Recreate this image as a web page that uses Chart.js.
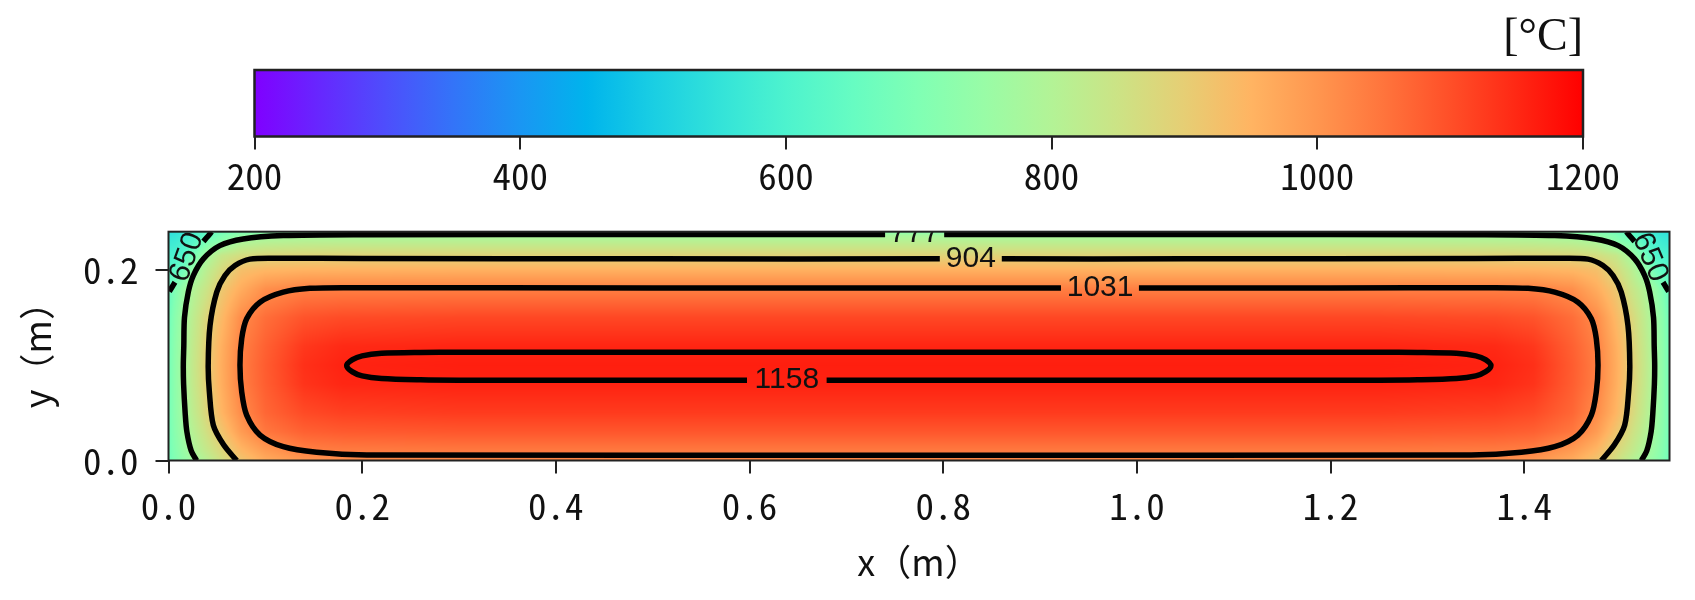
<!DOCTYPE html>
<html>
<head>
<meta charset="utf-8">
<script src="https://cdn.jsdelivr.net/npm/chart.js@4.4.1/dist/chart.umd.min.js"></script>
<style>
  html, body { margin: 0; padding: 0; background: #fff; }
  #wrap { position: relative; width: 1695px; height: 600px; }
  #colorbar { position: absolute; left: 0; top: 0; }
  #tempMap { position: absolute; left: 0; top: 200px; }
</style>
</head>
<body>
<div id="wrap">
  <canvas id="colorbar" width="1695" height="200"></canvas>
  <canvas id="tempMap" width="1695" height="400"></canvas>
</div>
<script>
// colour scale range and ticks
const barRange = [200, 1200];
const barTickValues = [200, 400, 600, 800, 1000, 1200];
const xTickValues = [0, 0.2, 0.4, 0.6, 0.8, 1.0, 1.2, 1.4];
const yTickValues = [0, 0.2];

// temperature field (°C), rows follow yNodes, columns follow xNodes
const xNodes = [0, 0.007, 0.015, 0.025, 0.04, 0.055, 0.075, 0.1, 0.14, 0.18, 0.3,
                1.25, 1.37, 1.41, 1.45, 1.475, 1.495, 1.51, 1.525, 1.535, 1.543, 1.55];
const yNodes = [0, 0.01, 0.03, 0.05, 0.08, 0.1, 0.12, 0.15, 0.18, 0.2, 0.215, 0.23, 0.236, 0.24];
const tempRows = [
  [672, 705, 735, 765, 810, 860, 917, 963, 998, 1010, 1018, 1018, 1010, 998, 963, 917, 860, 810, 765, 735, 705, 672],
  [675, 712, 748, 785, 836, 880, 943, 990, 1031, 1038, 1042, 1042, 1038, 1031, 990, 943, 880, 836, 785, 748, 712, 675],
  [678, 722, 762, 806, 862, 918, 990, 1045, 1076, 1085, 1090, 1090, 1085, 1076, 1045, 990, 918, 862, 806, 762, 722, 678],
  [680, 728, 770, 820, 885, 948, 1015, 1068, 1106, 1119, 1126, 1126, 1119, 1106, 1068, 1015, 948, 885, 820, 770, 728, 680],
  [680, 730, 776, 830, 898, 960, 1033, 1080, 1135, 1152, 1157, 1157, 1152, 1135, 1080, 1033, 960, 898, 830, 776, 730, 680],
  [680, 731, 777, 832, 900, 962, 1035, 1082, 1140, 1157, 1162, 1162, 1157, 1140, 1082, 1035, 962, 900, 832, 777, 731, 680],
  [678, 729, 775, 828, 896, 958, 1031, 1076, 1130, 1148, 1154, 1154, 1148, 1130, 1076, 1031, 958, 896, 828, 775, 729, 678],
  [670, 722, 768, 818, 885, 940, 1015, 1058, 1094, 1105, 1110, 1110, 1105, 1094, 1058, 1015, 940, 885, 818, 768, 722, 670],
  [648, 700, 748, 795, 848, 912, 962, 1010, 1031, 1033, 1034, 1034, 1033, 1031, 1010, 962, 912, 848, 795, 748, 700, 648],
  [622, 635, 672, 747, 817, 871, 928, 944, 951, 953, 955, 955, 953, 951, 944, 928, 871, 817, 747, 672, 635, 622],
  [595, 600, 614, 677, 777, 837, 865, 879, 886, 888, 889, 889, 888, 886, 879, 865, 837, 777, 677, 614, 600, 595],
  [566, 573, 590, 615, 690, 725, 785, 800, 807, 809, 810, 810, 809, 807, 800, 785, 725, 690, 615, 590, 573, 566],
  [552, 558, 575, 600, 650, 700, 740, 765, 777, 779, 780, 780, 779, 777, 765, 740, 700, 650, 600, 575, 558, 552],
  [540, 548, 565, 590, 640, 668, 690, 703, 710, 713, 715, 715, 713, 710, 703, 690, 668, 640, 590, 565, 548, 540]
];

// contour levels and their traced lines [x, y] in metres (pieces split where a label sits)
const levels = [650, 777, 904, 1031, 1158];
const contour650 = [
  [[0.0008, 0.1772], [0.0037, 0.182], [0.0067, 0.187]],
  [[0.036, 0.2299], [0.0405, 0.235], [0.0446, 0.24]],
  [[1.5054, 0.24], [1.5095, 0.235], [1.514, 0.2299]],
  [[1.5433, 0.187], [1.5463, 0.182], [1.5492, 0.1772]]
];
const contour777 = [
  [[0.029, 0], [0.0235, 0.01], [0.019, 0.03], [0.0172, 0.05], [0.0156, 0.08], [0.0153, 0.1], [0.0158, 0.12],
   [0.0165, 0.15], [0.0205, 0.177], [0.0256, 0.194], [0.036, 0.2115], [0.053, 0.2254], [0.077, 0.2324],
   [0.1185, 0.2359], [0.2, 0.2368], [0.5, 0.237], [0.74, 0.237]],
  [[0.801, 0.237], [1.05, 0.237], [1.35, 0.2368], [1.4315, 0.2359], [1.473, 0.2324], [1.497, 0.2254],
   [1.514, 0.2115], [1.5244, 0.194], [1.5295, 0.177], [1.5335, 0.15], [1.5342, 0.12], [1.5347, 0.1],
   [1.5344, 0.08], [1.5328, 0.05], [1.531, 0.03], [1.5265, 0.01], [1.521, 0]]
];
const contour904 = [
  [[0.0704, 0], [0.0571, 0.0162], [0.0463, 0.037], [0.0422, 0.072], [0.041, 0.1], [0.0429, 0.1417],
   [0.0498, 0.1766], [0.0583, 0.194], [0.0687, 0.2045], [0.0842, 0.2112], [0.1117, 0.2122], [0.2, 0.2118],
   [0.5, 0.2115], [0.7965, 0.2115]],
  [[0.8605, 0.2115], [1.05, 0.2115], [1.35, 0.2118], [1.4383, 0.2122], [1.4658, 0.2112], [1.4813, 0.2045],
   [1.4917, 0.194], [1.5002, 0.1766], [1.5071, 0.1417], [1.509, 0.1], [1.5078, 0.072], [1.5037, 0.037],
   [1.4929, 0.0162], [1.4796, 0]]
];
const contour1031 = [
  [[1.0021, 0.181], [1.2, 0.181], [1.3626, 0.1813], [1.404, 0.1806], [1.4315, 0.1766], [1.4555, 0.1661],
   [1.4693, 0.1487], [1.4744, 0.1278], [1.4762, 0.0999], [1.4744, 0.072], [1.4693, 0.0476], [1.4555, 0.0267],
   [1.4315, 0.0145], [1.397, 0.0086], [1.3453, 0.0058], [0.775, 0.0056], [0.2047, 0.0058], [0.153, 0.0086],
   [0.1185, 0.0145], [0.0945, 0.0267], [0.0807, 0.0476], [0.0756, 0.072], [0.0738, 0.0999], [0.0756, 0.1278],
   [0.0807, 0.1487], [0.0945, 0.1661], [0.1185, 0.1766], [0.146, 0.1806], [0.1874, 0.1813], [0.5, 0.181],
   [0.9216, 0.181]]
];
const contour1158 = [
  [[0.6796, 0.0842], [1.25, 0.0842], [1.29, 0.0846], [1.33, 0.086], [1.35, 0.0888], [1.36, 0.093],
   [1.3656, 0.0995], [1.36, 0.1058], [1.35, 0.1098], [1.33, 0.1124], [1.29, 0.1134], [1.25, 0.1136],
   [0.3, 0.1136], [0.26, 0.1134], [0.22, 0.1124], [0.2, 0.1098], [0.19, 0.1058], [0.184, 0.0995],
   [0.19, 0.093], [0.2, 0.0888], [0.22, 0.086], [0.26, 0.0846], [0.3, 0.0842], [0.5974, 0.0842]]
];
const contourLines = [contour650, contour777, contour904, contour1031, contour1158];
// where each level is written: [level index, x, y, angle in degrees]
const labelSpots = [
  [0, 0.0191, 0.2132, -70], [0, 1.5298, 0.2132, 67],
  [1, 0.7705, 0.2382, 0], [2, 0.8285, 0.2115, 0], [3, 0.962, 0.181, 0], [4, 0.6385, 0.0842, 0]
];

// matplotlib "rainbow" colour stops, evenly spread over barRange
const cmapStops = ['#8000ff', '#6628fe', '#4d4ffc', '#3374f8', '#1a96f3', '#00b4ec', '#1acee3', '#33e3d9',
  '#4df3ce', '#66fcc2', '#80ffb4', '#99fca6', '#b3f396', '#cce385', '#e6ce74', '#ffb462', '#ff964f',
  '#ff743c', '#ff4f28', '#ff2814', '#ff0000'];
const cmapRgb = cmapStops.map(h => [1, 3, 5].map(i => parseInt(h.substr(i, 2), 16)));

function tempColor(t) {
  let f = (t - barRange[0]) / (barRange[1] - barRange[0]);
  f = Math.min(1, Math.max(0, f)) * (cmapRgb.length - 1);
  const i = Math.min(cmapRgb.length - 2, Math.floor(f));
  const u = f - i, a = cmapRgb[i], b = cmapRgb[i + 1];
  return [a[0] + (b[0] - a[0]) * u, a[1] + (b[1] - a[1]) * u, a[2] + (b[2] - a[2]) * u];
}

function locate(nodes, v) {
  v = Math.min(nodes[nodes.length - 1], Math.max(nodes[0], v));
  let i = 0;
  while (i < nodes.length - 2 && v > nodes[i + 1]) i++;
  return [i, (v - nodes[i]) / (nodes[i + 1] - nodes[i])];
}

const tickFont = { family: "'Noto Sans Mono CJK SC', 'Noto Sans CJK SC', sans-serif", size: 37, lineHeight: 1.2 };
const ink = '#111';

function drawFrame(chart, width) {
  const { ctx, chartArea: a } = chart;
  ctx.save();
  ctx.strokeStyle = '#222';
  ctx.lineWidth = width;
  ctx.strokeRect(a.left, a.top, a.right - a.left, a.bottom - a.top);
  ctx.restore();
}

const colorbarPlugin = {
  id: 'colorbarFill',
  beforeDatasetsDraw(chart) {
    const { ctx, chartArea: a, scales: { x } } = chart;
    const g = ctx.createLinearGradient(a.left, 0, a.right, 0);
    cmapStops.forEach((c, i) => {
      const v = barRange[0] + i * (barRange[1] - barRange[0]) / (cmapStops.length - 1);
      g.addColorStop((x.getPixelForValue(v) - a.left) / (a.right - a.left), c);
    });
    ctx.save();
    ctx.fillStyle = g;
    ctx.fillRect(a.left, a.top, a.right - a.left, a.bottom - a.top);
    ctx.restore();
  },
  afterDraw(chart) { drawFrame(chart, 2.5); }
};

const fieldPlugin = {
  id: 'tempField',
  beforeDatasetsDraw(chart) {
    const { ctx, chartArea: a, scales: { x, y } } = chart;
    const left = Math.floor(a.left), top = Math.floor(a.top);
    const w = Math.ceil(a.right) - left, h = Math.ceil(a.bottom) - top;
    const off = document.createElement('canvas');
    off.width = w; off.height = h;
    const octx = off.getContext('2d');
    const img = octx.createImageData(w, h);
    const cols = [], rows = [];
    for (let i = 0; i < w; i++) cols.push(locate(xNodes, x.getValueForPixel(left + i + 0.5)));
    for (let j = 0; j < h; j++) rows.push(locate(yNodes, y.getValueForPixel(top + j + 0.5)));
    for (let j = 0; j < h; j++) {
      const [iy, fy] = rows[j];
      const r0 = tempRows[iy], r1 = tempRows[iy + 1];
      for (let i = 0; i < w; i++) {
        const [ix, fx] = cols[i];
        const t = (r0[ix] * (1 - fx) + r0[ix + 1] * fx) * (1 - fy) + (r1[ix] * (1 - fx) + r1[ix + 1] * fx) * fy;
        const c = tempColor(t), k = (j * w + i) * 4;
        img.data[k] = c[0]; img.data[k + 1] = c[1]; img.data[k + 2] = c[2]; img.data[k + 3] = 255;
      }
    }
    octx.putImageData(img, 0, 0);
    ctx.save();
    ctx.beginPath();
    ctx.rect(a.left, a.top, a.right - a.left, a.bottom - a.top);
    ctx.clip();
    ctx.drawImage(off, left, top);
    ctx.restore();
  },
  afterDatasetsDraw(chart) {
    const { ctx, chartArea: a, scales: { x, y } } = chart;
    ctx.save();
    ctx.beginPath();
    ctx.rect(a.left, a.top, a.right - a.left, a.bottom - a.top);
    ctx.clip();
    ctx.font = '30px "Liberation Sans", Arial, sans-serif';
    ctx.fillStyle = ink;
    ctx.textAlign = 'center';
    ctx.textBaseline = 'middle';
    labelSpots.forEach(([li, lx, ly, ang]) => {
      ctx.save();
      ctx.translate(x.getPixelForValue(lx), y.getPixelForValue(ly));
      ctx.rotate(ang * Math.PI / 180);
      ctx.fillText(String(levels[li]), 0, 0);
      ctx.restore();
    });
    ctx.restore();
  },
  afterDraw(chart) { drawFrame(chart, 2); }
};

const tickGrid = {
  display: true, drawOnChartArea: false, drawTicks: true,
  tickLength: 13, tickWidth: 2, tickColor: '#222', color: '#222', lineWidth: 2
};

// colour bar
new Chart(document.getElementById('colorbar'), {
  type: 'scatter',
  data: { datasets: [] },
  options: {
    responsive: false,
    animation: false,
    events: [],
    layout: { padding: { left: 254.5, right: 112, top: 8, bottom: 0 } },
    plugins: {
      legend: { display: false },
      tooltip: { enabled: false },
      title: {
        display: true, text: '[°C]', align: 'end', fullSize: false, color: ink,
        font: { family: "'Liberation Serif', 'DejaVu Serif', serif", size: 46, weight: 'normal', lineHeight: 1.2 },
        padding: { top: 2, bottom: 4.8 }
      }
    },
    scales: {
      x: {
        type: 'linear', min: barRange[0], max: barRange[1],
        afterBuildTicks: s => { s.ticks = barTickValues.map(v => ({ value: v })); },
        afterFit: s => { s.height = 63.5; s.paddingLeft = 0; s.paddingRight = 0; },
        ticks: { font: tickFont, color: ink, padding: 4, maxRotation: 0, autoSkip: false,
                 callback: v => String(v) },
        grid: tickGrid,
        border: { display: false }
      },
      y: { display: false, min: 0, max: 1 }
    }
  },
  plugins: [colorbarPlugin]
});

// temperature map with contour lines
const contourSets = [];
contourLines.forEach((pieces, li) => {
  pieces.forEach(piece => {
    contourSets.push({
      label: String(levels[li]),
      data: piece.map(([px, py]) => ({ x: px, y: py })),
      showLine: true,
      borderColor: '#000',
      borderWidth: 5.5,
      borderJoinStyle: 'round',
      pointRadius: 0,
      tension: 0.3,
      clip: 0
    });
  });
});

new Chart(document.getElementById('tempMap'), {
  type: 'scatter',
  data: { datasets: contourSets },
  options: {
    responsive: false,
    animation: false,
    events: [],
    layout: { padding: { left: 0, right: 25.5, top: 31.7, bottom: 0 } },
    plugins: { legend: { display: false }, tooltip: { enabled: false } },
    scales: {
      x: {
        type: 'linear', min: 0, max: 1.55,
        afterBuildTicks: s => { s.ticks = xTickValues.map(v => ({ value: v })); },
        afterFit: s => { s.height = 139.5; s.paddingLeft = 0; s.paddingRight = 0; },
        ticks: { font: tickFont, color: ink, padding: 10, maxRotation: 0, autoSkip: false,
                 callback: v => v.toFixed(1) },
        grid: tickGrid,
        border: { display: false },
        title: { display: true, text: 'x（m）', color: ink,
                 font: { family: "'Noto Sans CJK SC', sans-serif", size: 36, lineHeight: 1.2 },
                 padding: { top: 0, bottom: 16 } }
      },
      y: {
        type: 'linear', min: 0, max: 0.24,
        afterBuildTicks: s => { s.ticks = yTickValues.map(v => ({ value: v })); },
        afterFit: s => { s.width = 168.5; s.paddingTop = 0; s.paddingBottom = 0; },
        ticks: { font: tickFont, color: ink, padding: 17, autoSkip: false,
                 callback: v => v.toFixed(1) },
        grid: tickGrid,
        border: { display: false },
        title: { display: true, text: 'y（m）', color: ink,
                 font: { family: "'Noto Sans CJK SC', sans-serif", size: 36, lineHeight: 1.2 },
                 padding: { top: 16, bottom: 0 } }
      }
    }
  },
  plugins: [fieldPlugin]
});
</script>
</body>
</html>
